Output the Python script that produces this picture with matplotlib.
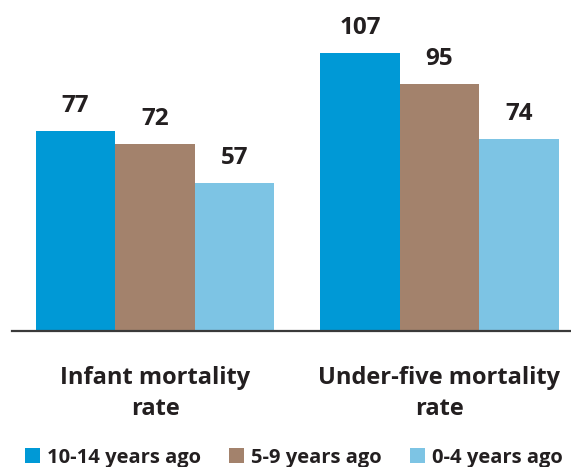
import numpy as np
import matplotlib.pyplot as plt

indicators = ["Infant mortality\nrate", "Under-five mortality\nrate"]
periods = ["10-14 years ago", "5-9 years ago", "0-4 years ago"]
rates = {
    "10-14 years ago": [77, 107],
    "5-9 years ago": [72, 95],
    "0-4 years ago": [57, 74],
}
colors = ["#0099d6", "#a3826c", "#7dc4e4"]

plt.rcParams['font.family'] = ['Open Sans', 'DejaVu Sans']
text_color = "#231f20"

fig = plt.figure(figsize=(5.71, 4.67), dpi=100)
ax = fig.add_axes([12 / 571, 1 - 331 / 467, 559 / 571, 331 / 467])

x = np.arange(len(indicators))
w = 0.2794
for i, p in enumerate(periods):
    bars = ax.bar(x + (i - 1) * w, rates[p], width=w, color=colors[i], label=p)
    for b, v in zip(bars, rates[p]):
        ax.annotate(str(v), (b.get_x() + b.get_width() / 2, v),
                    xytext=(0, 9.5), textcoords="offset points",
                    ha="center", va="bottom", fontsize=17.5, fontweight="bold",
                    color=text_color)

ax.set_xlim(-0.5026, 1.462)
ax.set_ylim(0, 127.4)
for s in ["top", "right", "left"]:
    ax.spines[s].set_visible(False)
ax.spines["bottom"].set_color("#3a3a3a")
ax.spines["bottom"].set_linewidth(1.6)
ax.set_yticks([])
ax.set_xticks(x)
ax.set_xticklabels(indicators, fontsize=17, fontweight="bold", color=text_color,
                   linespacing=1.4)
ax.tick_params(axis="x", length=0, pad=25)

fig.legend(loc="lower center", ncol=3, frameon=False, bbox_to_anchor=(0.515, -0.04),
           prop={"size": 14.5, "weight": "bold"}, labelcolor=text_color,
           handlelength=0.75, handleheight=0.75, handletextpad=0.35, columnspacing=1.4)

fig.savefig("out.png", dpi=100)
